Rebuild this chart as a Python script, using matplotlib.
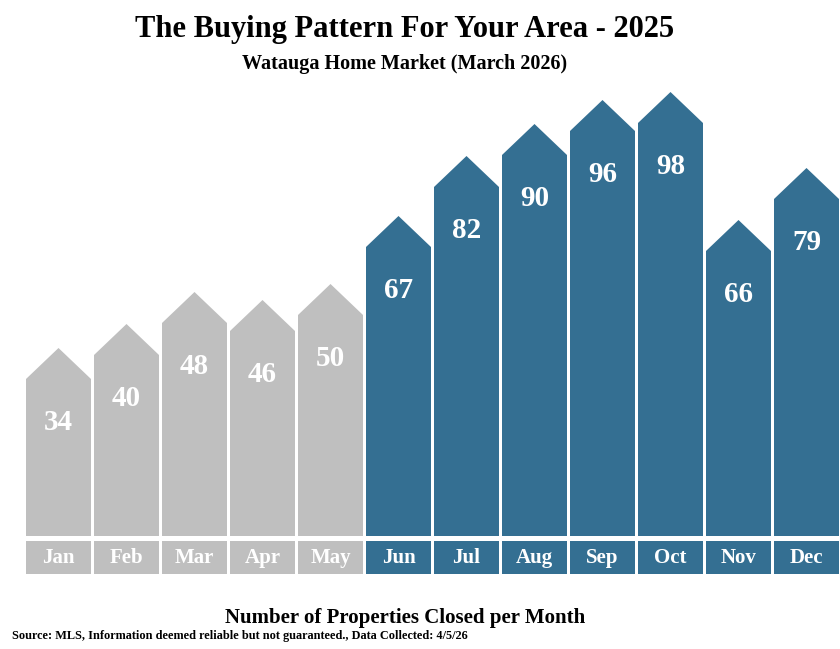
import matplotlib.pyplot as plt
from matplotlib.patches import Polygon, Rectangle

months = ['Jan', 'Feb', 'Mar', 'Apr', 'May', 'Jun', 'Jul', 'Aug', 'Sep', 'Oct', 'Nov', 'Dec']
closed = [34, 40, 48, 46, 50, 67, 82, 90, 96, 98, 66, 79]
n_gray = 5

gray = '#bfbfbf'
blue = '#346f92'
serif = ['Liberation Serif', 'DejaVu Serif']

fig = plt.figure(figsize=(8.4, 6.49), dpi=100)
ax = fig.add_axes([24.5 / 840, 70 / 649, 816 / 840, 504 / 649])
ax.set_xlim(-0.5, 11.5)
ax.set_ylim(-16, 110)
ax.axis('off')

w = 65 / 68
roof = 7.75
bottom = -5.25

for i, (m, v) in enumerate(zip(months, closed)):
    c = gray if i < n_gray else blue
    l, r = i - w / 2, i + w / 2
    house = Polygon([(l, bottom), (r, bottom), (r, v), (i, v + roof), (l, v)],
                    closed=True, facecolor=c, edgecolor='none')
    ax.add_patch(house)
    ax.add_patch(Rectangle((l, -14.75), w, 8.25, facecolor=c, edgecolor='none'))
    ax.text(i, v - 11, str(v), ha='center', va='center', color='white',
            fontsize=21, fontweight='bold', family=serif)
    ax.text(i, -10.8, m, ha='center', va='center', color='white',
            fontsize=15, fontweight='bold', family=serif)

fig.text(405 / 840, 1 - 30 / 649, 'The Buying Pattern For Your Area - 2025',
         ha='center', va='center', fontsize=22, fontweight='bold', family=serif)
fig.text(405 / 840, 1 - 64 / 649, 'Watauga Home Market (March 2026)',
         ha='center', va='center', fontsize=14.5, fontweight='bold', family=serif)
fig.text(405 / 840, 1 - 618 / 649, 'Number of Properties Closed per Month',
         ha='center', va='center', fontsize=15, fontweight='bold', family=serif)
fig.text(12 / 840, 1 - 636 / 649,
         'Source: MLS, Information deemed reliable but not guaranteed., Data Collected: 4/5/26',
         ha='left', va='center', fontsize=8.8, fontweight='bold', family=serif)

fig.savefig('out.png', dpi=100)
